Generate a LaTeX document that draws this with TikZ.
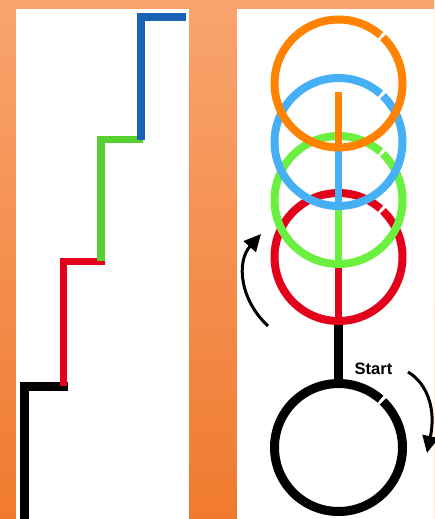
\documentclass[tikz,border=0pt]{standalone}
\usepackage{fontspec}
\setmainfont{Liberation Sans}
\usetikzlibrary{arrows.meta}
\definecolor{bgtop}{HTML}{F9A46F}
\definecolor{bgbot}{HTML}{F07A2F}
\definecolor{stblue}{HTML}{1A62B5}
\definecolor{stgreen}{HTML}{58D030}
\definecolor{stred}{HTML}{E2001A}
\definecolor{corange}{HTML}{FF8300}
\definecolor{cblue}{HTML}{45B0F5}
\definecolor{cgreen}{HTML}{6CF040}
\definecolor{cred}{HTML}{E2001A}
\begin{document}
\begin{tikzpicture}[x=1pt,y=-1pt,
  panel/.style={fill=white,draw=none},
  chalk/.style={draw=#1,line width=7.5pt,line cap=butt,line join=miter},
  ring/.style={draw=#1,line width=8pt},
  spoke/.style={draw=#1,line width=7pt},
  turnarrow/.style={line width=3pt,-{Triangle[length=17pt,width=16pt]}},
  lbl/.style={font=\bfseries\fontsize{16.5}{18}\selectfont,inner sep=0pt}
]
\useasboundingbox (0,0) rectangle (434,519);
\shade[top color=bgtop,bottom color=bgbot] (0,0) rectangle (434,519);
\fill[panel] (16,9) rectangle (189,519);
\fill[panel] (237,9) rectangle (434,519);

% staircase
\draw[chalk=black,line width=9pt] (24.5,519) -- (24.5,386.5) -- (68,386.5);
\draw[chalk=stred] (63.5,386) -- (63.5,261.5) -- (105,261.5);
\draw[chalk=stgreen] (101,261) -- (101,139.5) -- (143,139.5);
\draw[chalk=stblue] (141,140) -- (141,17) -- (186,17);

% circles (bottom to top)
\coordinate (cK) at (338.5,447.5);
\coordinate (cR) at (338.5,257);
\coordinate (cG) at (338.5,200);
\coordinate (cB) at (338.5,142);
\coordinate (cO) at (338.5,83.5);

\draw[ring=black,line width=9pt] ([shift={(-46:64)}]cK) arc[start angle=-46,end angle=311,radius=64];
\draw[spoke=black,line width=9pt] (338.5,324) -- (338.5,380);

\draw[ring=cred] ([shift={(-46:64)}]cR) arc[start angle=-46,end angle=311,radius=64];
\draw[spoke=cred] (338.5,265) -- (338.5,324);

\draw[ring=cgreen] ([shift={(-46:64)}]cG) arc[start angle=-46,end angle=311,radius=64];
\draw[spoke=cgreen] (338.5,208) -- (338.5,267);

\draw[ring=cblue] ([shift={(-46:64)}]cB) arc[start angle=-46,end angle=311,radius=64];
\draw[spoke=cblue] (338.5,150) -- (338.5,210);

\draw[ring=corange] ([shift={(-46:64)}]cO) arc[start angle=-46,end angle=311,radius=64];
\draw[spoke=corange] (338.5,92) -- (338.5,151);

% arrows
\coordinate (la) at (268,326);
\coordinate (lb) at (261,234);
\draw[turnarrow] (la) .. controls (240,300) and (236,262) .. (lb);
\coordinate (ra) at (408,372);
\coordinate (rb) at (427,453);
\draw[turnarrow] (ra) .. controls (428,384) and (436,410) .. (rb);

\node[lbl] (start) at (373.5,369) {Start};
\end{tikzpicture}
\end{document}
